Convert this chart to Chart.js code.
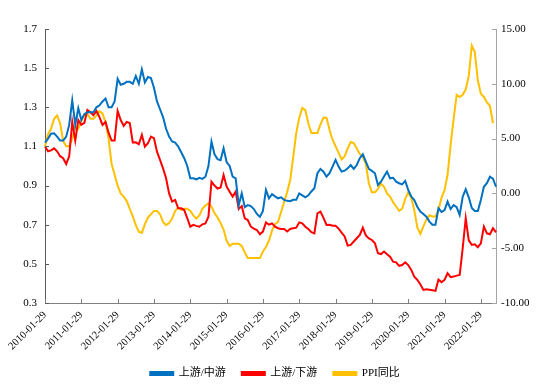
<!DOCTYPE html>
<html>
<head>
<meta charset="utf-8">
<script src="https://cdn.jsdelivr.net/npm/chart.js@4.4.1/dist/chart.umd.min.js"></script>
<style>
  html, body { margin: 0; padding: 0; background: #fff; }
  #wrap { width: 550px; height: 389px; }
</style>
</head>
<body>
<div id="wrap"><canvas id="myChart" width="550" height="389"></canvas></div>
<script>
// monthly, 2010-01 .. 2022-06
var upMid = [
  1.12, 1.14, 1.165, 1.167, 1.15, 1.13, 1.13, 1.15, 1.21, 1.335, 1.21, 1.295,
  1.235, 1.265, 1.275, 1.275, 1.275, 1.30, 1.31, 1.33, 1.345, 1.30, 1.30, 1.33,
  1.445, 1.415, 1.42, 1.43, 1.43, 1.42, 1.46, 1.42, 1.494, 1.427, 1.455, 1.45,
  1.40, 1.33, 1.29, 1.25, 1.19, 1.15, 1.125, 1.12, 1.10, 1.07, 1.04, 1.00,
  0.937, 0.937, 0.932, 0.94, 0.934, 0.945, 1.00, 1.125, 1.06, 1.035, 1.03, 1.09,
  1.02, 1.00, 0.946, 0.937, 0.80, 0.86, 0.79, 0.80, 0.795, 0.78, 0.755, 0.74,
  0.77, 0.878, 0.835, 0.856, 0.845, 0.835, 0.84, 0.827, 0.822, 0.82, 0.827, 0.827,
  0.86, 0.85, 0.84, 0.85, 0.87, 0.886, 0.963, 0.985, 0.971, 0.946, 0.963, 0.997,
  1.031, 0.997, 0.971, 0.976, 0.988, 1.005, 0.985, 1.005, 1.04, 1.06, 1.022, 0.985,
  0.975, 0.963, 0.903, 0.92, 0.946, 0.971, 0.937, 0.94, 0.92, 0.912, 0.906, 0.924,
  0.878, 0.844, 0.826, 0.792, 0.767, 0.755, 0.741, 0.716, 0.70, 0.70, 0.784, 0.765,
  0.775, 0.818, 0.78, 0.80, 0.79, 0.75, 0.843, 0.881, 0.84, 0.785, 0.77, 0.77,
  0.826, 0.894, 0.912, 0.945, 0.935, 0.894
];
var upDown = [
  1.10, 1.075, 1.08, 1.09, 1.075, 1.05, 1.04, 1.01, 1.05, 1.226, 1.13, 1.235,
  1.21, 1.22, 1.286, 1.275, 1.26, 1.281, 1.25, 1.21, 1.225, 1.17, 1.13, 1.13,
  1.281, 1.235, 1.205, 1.225, 1.22, 1.12, 1.121, 1.111, 1.159, 1.099, 1.116, 1.15,
  1.142, 1.073, 1.031, 0.988, 0.937, 0.86, 0.818, 0.827, 0.784, 0.784, 0.775, 0.733,
  0.69, 0.699, 0.694, 0.69, 0.702, 0.707, 0.741, 0.92, 0.90, 0.885, 0.89, 0.954,
  0.895, 0.869, 0.844, 0.869, 0.78, 0.795, 0.733, 0.724, 0.69, 0.68, 0.673, 0.651,
  0.665, 0.712, 0.70, 0.707, 0.69, 0.682, 0.678, 0.678, 0.665, 0.678, 0.682, 0.685,
  0.712, 0.707, 0.69, 0.678, 0.662, 0.656, 0.758, 0.767, 0.735, 0.699, 0.70, 0.695,
  0.695, 0.68, 0.66, 0.64, 0.593, 0.597, 0.614, 0.631, 0.648, 0.685, 0.645, 0.63,
  0.622, 0.605, 0.554, 0.55, 0.563, 0.549, 0.537, 0.511, 0.508, 0.49, 0.494, 0.508,
  0.494, 0.469, 0.435, 0.418, 0.396, 0.367, 0.37, 0.368, 0.365, 0.362, 0.42, 0.406,
  0.418, 0.452, 0.432, 0.435, 0.44, 0.443, 0.58, 0.733, 0.62, 0.597, 0.60, 0.585,
  0.605, 0.69, 0.656, 0.651, 0.682, 0.661
];
var ppi = [
  4.3, 5.4, 5.9, 6.8, 7.1, 6.4, 4.8, 4.3, 4.3, 5.0, 6.1, 5.9,
  6.6, 7.2, 7.3, 6.8, 6.8, 7.1, 7.5, 7.3, 6.5, 5.0, 2.7, 1.7,
  0.7, 0.0, -0.3, -0.7, -1.4, -2.1, -2.9, -3.5, -3.6, -2.8, -2.2, -1.9,
  -1.6, -1.6, -1.9, -2.6, -2.9, -2.7, -2.3, -1.6, -1.3, -1.5, -1.4, -1.4,
  -1.6, -2.0, -2.3, -2.0, -1.4, -1.1, -0.9, -1.2, -1.8, -2.2, -2.7, -3.3,
  -4.3, -4.8, -4.6, -4.6, -4.6, -4.8, -5.4, -5.9, -5.9, -5.9, -5.9, -5.9,
  -5.3, -4.9, -4.3, -3.4, -2.8, -2.6, -1.7, -0.8, 0.1, 1.2, 3.3, 5.5,
  6.9, 7.8, 7.6, 6.4, 5.5, 5.5, 5.5, 6.3, 6.9, 6.9, 5.8, 4.9,
  4.3, 3.7, 3.1, 3.4, 4.1, 4.7, 4.6, 4.1, 3.6, 3.3, 2.7, 0.9,
  0.1, 0.1, 0.4, 0.9, 0.6, 0.0, -0.3, -0.8, -1.2, -1.6, -1.4, -0.5,
  0.1, -0.4, -1.5, -3.1, -3.7, -3.0, -2.4, -2.0, -2.1, -2.1, -1.5, -0.4,
  0.3, 1.7, 4.4, 6.8, 9.0, 8.8, 9.0, 9.5, 10.7, 13.5, 12.9, 10.3,
  9.1, 8.8, 8.3, 8.0, 6.4, null
];

var labels = [];
for (var i = 0; i < upMid.length; i++) {
  var y = 2010 + Math.floor(i / 12);
  var m = (i % 12) + 1;
  labels.push(y + '-' + (m < 10 ? '0' + m : m) + '-29');
}

var FONT = "'Liberation Serif', 'Noto Sans CJK SC', serif";
Chart.defaults.font.family = FONT;
Chart.defaults.color = '#000';

// small tick marks pointing into the plot
var innerTicks = {
  id: 'innerTicks',
  afterDatasetsDraw: function (chart) {
    var c = chart.ctx, a = chart.chartArea;
    var x = chart.scales.x, yl = chart.scales.y, yr = chart.scales.y1;
    c.save();
    c.lineWidth = 1;
    c.strokeStyle = '#808080';
    for (var k = 0; k < labels.length; k += 12) {
      var px = Math.round(x.getPixelForValue(k)) + 0.5;
      c.beginPath(); c.moveTo(px, a.bottom); c.lineTo(px, a.bottom - 4); c.stroke();
    }
    c.strokeStyle = '#595959';
    yl.ticks.forEach(function (t) {
      var py = Math.round(yl.getPixelForValue(t.value)) + 0.5;
      c.beginPath(); c.moveTo(a.left, py); c.lineTo(a.left + 4, py); c.stroke();
    });
    c.strokeStyle = '#a6a6a6';
    yr.ticks.forEach(function (t) {
      var py = Math.round(yr.getPixelForValue(t.value)) + 0.5;
      c.beginPath(); c.moveTo(a.right, py); c.lineTo(a.right - 4, py); c.stroke();
    });
    c.restore();
  }
};

var ctx = document.getElementById('myChart');
new Chart(ctx, {
  type: 'line',
  data: {
    labels: labels,
    datasets: [{
      label: '上游/中游',
      data: upMid,
      borderColor: '#0070C0',
      backgroundColor: '#0070C0',
      borderWidth: 2,
      pointRadius: 0,
      yAxisID: 'y'
    }, {
      label: '上游/下游',
      data: upDown,
      borderColor: '#FF0000',
      backgroundColor: '#FF0000',
      borderWidth: 2,
      pointRadius: 0,
      yAxisID: 'y'
    }, {
      label: 'PPI同比',
      data: ppi,
      borderColor: '#FFC000',
      backgroundColor: '#FFC000',
      borderWidth: 2,
      pointRadius: 0,
      yAxisID: 'y1'
    }]
  },
  options: {
    responsive: false,
    animation: false,
    layout: { padding: { top: 29, left: 0, right: 0, bottom: 0 } },
    plugins: {
      legend: {
        position: 'bottom',
        labels: {
          boxWidth: 23,
          boxHeight: 3,
          padding: 16,
          font: { size: 11 },
          color: '#000'
        }
      },
      tooltip: { enabled: false }
    },
    scales: {
      x: {
        offset: false,
        grid: { display: true, drawOnChartArea: false, drawTicks: false },
        border: { display: true, color: '#808080' },
        afterFit: function (s) { s.height = 49; },
        ticks: {
          autoSkip: false,
          maxRotation: 45,
          minRotation: 45,
          padding: 6,
          font: { size: 10.5 },
          callback: function (v, idx) { return idx % 12 === 0 ? labels[idx] : null; }
        }
      },
      y: {
        position: 'left',
        min: 0.3,
        max: 1.7,
        grid: { display: true, drawOnChartArea: false, drawTicks: false },
        border: { display: true, color: '#595959' },
        afterFit: function (s) { s.width = 45; },
        ticks: {
          stepSize: 0.2,
          padding: 8,
          font: { size: 11 },
          callback: function (v) { return Number(v).toFixed(1); }
        }
      },
      y1: {
        position: 'right',
        min: -10,
        max: 15,
        grid: { display: true, drawOnChartArea: false, drawTicks: false },
        border: { display: true, color: '#a6a6a6' },
        afterFit: function (s) { s.width = 54; },
        ticks: {
          stepSize: 5,
          padding: 5,
          font: { size: 11 },
          callback: function (v) { return Number(v).toFixed(2); }
        }
      }
    }
  },
  plugins: [innerTicks]
});
</script>
</body>
</html>
